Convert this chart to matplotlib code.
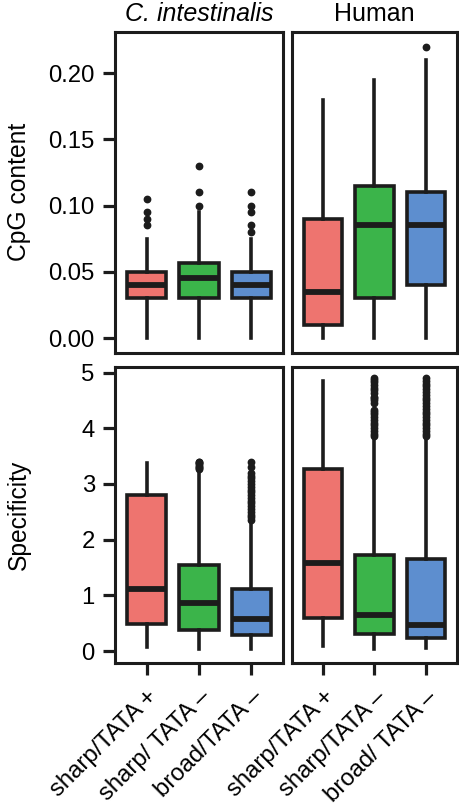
import matplotlib
matplotlib.use("Agg")
import matplotlib.pyplot as plt

plt.rcParams['font.family'] = ['Liberation Sans', 'DejaVu Sans']

species = ["C. intestinalis", "Human"]
metrics = ["CpG content", "Specificity"]
labels_ci = ["sharp/TATA +", "sharp/ TATA \u2013", "broad/TATA \u2013"]
labels_hs = ["sharp/TATA +", "sharp/TATA \u2013", "broad/ TATA \u2013"]
colors = ["#EE746F", "#3BB44A", "#5D8ECF"]

# box statistics: (whislo, q1, med, q3, whishi)
cpg_ci = [(0.0, 0.03, 0.04, 0.05, 0.075),
          (0.0, 0.03, 0.045, 0.0565, 0.095),
          (0.0, 0.03, 0.04, 0.05, 0.075)]
cpg_ci_out = [[0.085, 0.09, 0.095, 0.105],
              [0.10, 0.11, 0.13],
              [0.08, 0.085, 0.095, 0.10, 0.11]]
cpg_hs = [(0.0, 0.01, 0.035, 0.09, 0.18),
          (0.0, 0.03, 0.085, 0.115, 0.195),
          (0.0, 0.04, 0.085, 0.11, 0.21)]
cpg_hs_out = [[], [], [0.22]]

spec_ci = [(0.07, 0.48, 1.12, 2.80, 3.37),
           (0.03, 0.38, 0.86, 1.54, 3.20),
           (0.03, 0.29, 0.57, 1.11, 2.30)]
spec_ci_out = [[],
               [3.26, 3.29, 3.31, 3.33, 3.35, 3.37, 3.39, 3.40],
               [2.35, 2.40, 2.45, 2.50, 2.55, 2.60, 2.65, 2.70, 2.75, 2.80,
                2.85, 2.90, 2.95, 3.00, 3.05, 3.10, 3.15, 3.20, 3.30, 3.40]]
spec_hs = [(0.09, 0.60, 1.58, 3.26, 4.85),
           (0.03, 0.30, 0.65, 1.72, 3.82),
           (0.05, 0.23, 0.47, 1.66, 3.82)]
spec_hs_out = [[],
               [3.86, 3.90, 3.95, 4.00, 4.05, 4.10, 4.15, 4.20, 4.25, 4.30, 4.33,
                4.45, 4.50, 4.55, 4.57,
                4.63, 4.68, 4.73, 4.78, 4.83, 4.87, 4.90],
               [3.86, 3.90, 3.95, 4.00, 4.05, 4.10, 4.15, 4.20, 4.25, 4.30,
                4.35, 4.40, 4.45, 4.50, 4.55, 4.60, 4.65, 4.70, 4.75, 4.80,
                4.85, 4.90]]

cpg_ticks = [0.00, 0.05, 0.10, 0.15, 0.20]
cpg_ticklabels = ["0.00", "0.05", "0.10", "0.15", "0.20"]
spec_ticks = [0, 1, 2, 3, 4, 5]

W, H = 460, 806
fig = plt.figure(figsize=(W / 100, H / 100), dpi=100)

def axes_px(x0, y0, x1, y1):
    return fig.add_axes([x0 / W, 1 - y1 / H, (x1 - x0) / W, (y1 - y0) / H])

ax_tl = axes_px(115, 32, 283, 353)
ax_tr = axes_px(292, 32, 457, 353)
ax_bl = axes_px(115, 367, 283, 663)
ax_br = axes_px(292, 367, 457, 663)

EDGE = "#1c1c1c"
FS = 17.2

def draw(ax, stats, outs):
    bx = []
    for (lo, q1, med, q3, hi), fl in zip(stats, outs):
        bx.append(dict(whislo=lo, q1=q1, med=med, q3=q3, whishi=hi, fliers=fl))
    res = ax.bxp(bx, positions=[1, 2, 3], widths=0.75, patch_artist=True,
                 showcaps=False,
                 boxprops=dict(edgecolor=EDGE, linewidth=2.6),
                 medianprops=dict(color=EDGE, linewidth=4.2, solid_capstyle='butt'),
                 whiskerprops=dict(color=EDGE, linewidth=2.6),
                 flierprops=dict(marker='o', markerfacecolor=EDGE, markeredgecolor=EDGE,
                                 markersize=4.6, linestyle='none'))
    for patch, c in zip(res['boxes'], colors):
        patch.set_facecolor(c)
    ax.set_xlim(0.4, 3.6)
    for s in ax.spines.values():
        s.set_linewidth(2.2)
        s.set_color(EDGE)
    ax.tick_params(width=2.3, length=8.5, color=EDGE, labelsize=FS, pad=6)

draw(ax_tl, cpg_ci, cpg_ci_out)
draw(ax_tr, cpg_hs, cpg_hs_out)
draw(ax_bl, spec_ci, spec_ci_out)
draw(ax_br, spec_hs, spec_hs_out)

for ax in (ax_tl, ax_tr):
    ax.set_ylim(-0.0113, 0.231)
    ax.set_yticks(cpg_ticks)
for ax in (ax_bl, ax_br):
    ax.set_ylim(-0.215, 5.10)
    ax.set_yticks(spec_ticks)

ax_tl.set_yticklabels(cpg_ticklabels)
ax_tr.set_yticklabels([])
ax_tr.tick_params(axis='y', length=0)
ax_br.set_yticklabels([])
ax_br.tick_params(axis='y', length=0)

for ax in (ax_tl, ax_tr):
    ax.set_xticks([1, 2, 3])
    ax.set_xticklabels([])
    ax.tick_params(axis='x', length=0)

ax_bl.set_xticks([1, 2, 3])
ax_bl.set_xticklabels(labels_ci, rotation=45, ha='right', va='top',
                      rotation_mode='anchor')
ax_br.set_xticks([1, 2, 3])
ax_br.set_xticklabels(labels_hs, rotation=45, ha='right', va='top',
                      rotation_mode='anchor')
for ax in (ax_bl, ax_br):
    ax.tick_params(axis='x', pad=8)

fig.text(199 / W, 1 - 14 / H, species[0], ha='center', va='center',
         fontsize=FS + 0.8, style='italic')
fig.text(374.5 / W, 1 - 14 / H, species[1], ha='center', va='center',
         fontsize=FS + 0.8)
fig.text(19 / W, 1 - 192 / H, metrics[0], rotation=90, ha='center', va='center',
         fontsize=FS + 0.5)
fig.text(19 / W, 1 - 515 / H, metrics[1], rotation=90, ha='center', va='center',
         fontsize=FS + 0.5)

fig.savefig("out.png", dpi=100)
